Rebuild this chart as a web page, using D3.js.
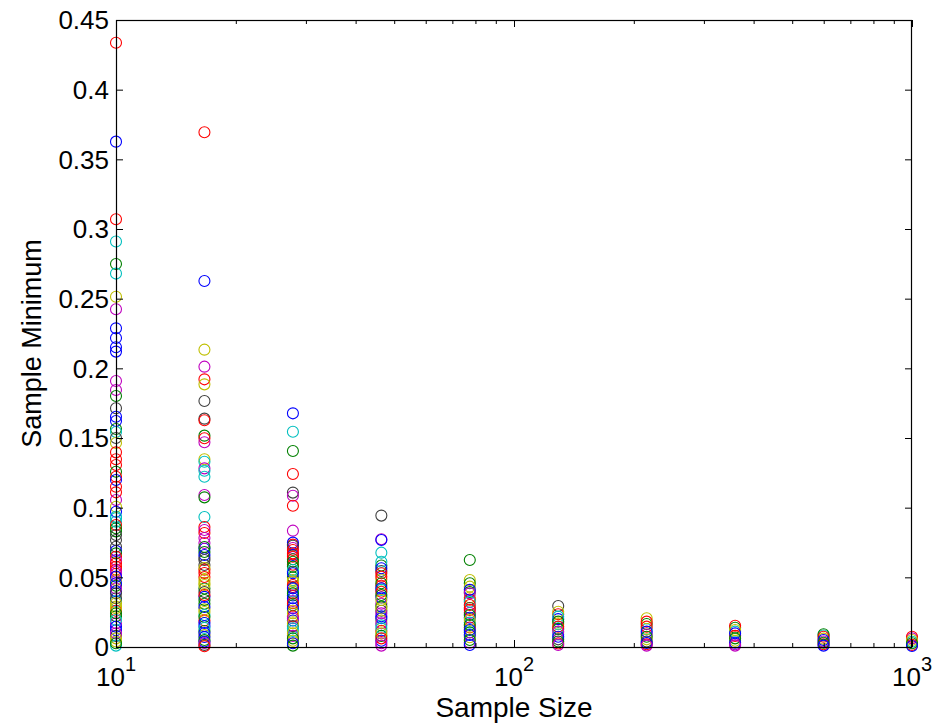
<!DOCTYPE html>
<html>
<head>
<meta charset="utf-8">
<script src="https://cdn.jsdelivr.net/npm/d3@7"></script>
<style>
  html, body { margin: 0; padding: 0; background: #fff; }
  svg { display: block; font-family: "Liberation Sans", Arial, Helvetica, sans-serif; }
</style>
</head>
<body>
<svg id="chart" width="933" height="724"></svg>
<script>
// ---- data ----
const sampleSizes = [10, 16.68, 27.83, 46.42, 77.43, 129.15, 215.44, 359.38, 599.48, 1000];

const minima10 = [0.4337,0.3627,0.307,0.291,0.2749,0.268,0.2514,0.2424,0.2287,0.2218,0.2151,0.212,0.1909,0.1845,0.1801,0.1713,0.1653,0.1622,0.1565,0.1543,0.150,0.1464,0.1397,0.1347,0.1306,0.1258,0.1222,0.1199,0.115,0.111,0.1055,0.1007,0.0971,0.0935,0.0899,0.0876,0.0852,0.0804,0.0768,0.0672,0.0648,0.0624,0.0601,0.0576,0.054,0.0505,0.0457,0.042,0.0385,0.035,0.0314,0.0278,0.0242,0.0194,0.0146,0.0098,0.0062,0.0027];
const colors10  = "rbrcgcymbbbbmmgkbbgckyrrrgrbrrmybccrgkkgrmrrmbbmkkyygcbmyg";
const dense10   = [0.0925,0.083,0.072,0.069,0.0555,0.0525,0.048,0.044,0.040,0.033,0.029,0.026,0.022,0.017,0.012,0.008,0.004,0.001];
const denseCol10 = "cgkbrmygbcyrgmbkyc";

const minima17 = [0.3694,0.2627,0.2134,0.2012,0.1921,0.1885,0.1766,0.1639,0.1627,0.1517,0.1498,0.1469,0.1347,0.133,0.1282,0.1265,0.1222,0.1091,0.1074,0.0933,0.0861,0.084,0.0818,0.0782,0.0746,0.0718,0.0682,0.066,0.0624,0.0589,0.0567,0.0531,0.0502,0.0481,0.0445,0.0395,0.0373,0.0337,0.0287,0.0251,0.0215,0.0172,0.0136,0.01,0.0072,0.005,0.0029,0.0005];
const colors17  = "rbymrykkrgrmycmccmgcrmrmmggbkkyrryykrgbygbcbbgmr";
const dense17   = [0.0705,0.064,0.0555,0.046,0.042,0.036,0.031,0.027,0.023,0.019,0.015,0.0115,0.0085,0.004,0.0015];
const denseCol17 = "bkrygbgycrbgybk";

const minima28 = [0.1677,0.1545,0.1407,0.1242,0.1108,0.1086,0.1014,0.0835,0.0749,0.0727,0.0696,0.0672,0.0648,0.0612,0.0576,0.0553,0.0529,0.0469,0.0445,0.0421,0.0385,0.035,0.0314,0.0278,0.0242,0.0206,0.017,0.0134,0.0098,0.0062,0.0027];
const colors28  = "bcgrkmrmbkrrrggcbyrbgbrbymycygb";
const dense28   = [0.0735,0.071,0.066,0.063,0.059,0.054,0.05,0.048,0.043,0.040,0.037,0.033,0.030,0.026,0.022,0.019,0.015,0.0115,0.008,0.0045,0.001];
const denseCol28 = "rmbgrkgyrcbmgyrbkcmyg";

const minima46 = [0.0943,0.0773,0.0768,0.0677,0.0612,0.0565,0.0529,0.0505,0.0457,0.0421,0.0397,0.0373,0.0337,0.0278,0.0242,0.0206,0.017,0.0134,0.0098,0.0062,0.0027];
const colors46  = "kmbccbrrgbrgyymbmcyrm";
const dense46   = [0.0585,0.0545,0.0485,0.044,0.041,0.0355,0.031,0.029,0.026,0.022,0.019,0.0155,0.0115,0.008,0.0045,0.001];
const denseCol46 = "gkyrcbmgkbycrgbm";

const minima77 = [0.0624,0.0481,0.0457,0.0433,0.041,0.0385,0.0325,0.0301,0.0266,0.023,0.0194,0.0158,0.0122,0.0086,0.005,0.0014];
const colors77  = "gygybmcrrgygbbgb";
const dense77   = [0.0395,0.0355,0.034,0.028,0.0245,0.021,0.0175,0.014,0.0105,0.007,0.003];
const denseCol77 = "gyrkmbcrgym";

const minima129 = [0.0294,0.0253,0.0218,0.0182,0.0146,0.011,0.0074,0.004,0.0014];
const colors129 = "kycgrmbgm";
const dense129  = [0.0235,0.02,0.0165,0.013,0.009,0.0055,0.0025];
const denseCol129 = "rbygckr";

const minima215 = [0.0206,0.0182,0.0146,0.011,0.0074,0.004,0.0029,0.001];
const colors215 = "yrrbgkbm";
const dense215  = [0.0165,0.0128,0.009,0.0055,0.002];
const denseCol215 = "gcmyr";

const minima359 = [0.0153,0.0122,0.0098,0.0062,0.003,0.001];
const colors359 = "rybgbm";
const dense359  = [0.0138,0.011,0.008,0.0045,0.002];
const denseCol359 = "gcrym";

const minima599 = [0.0091,0.0074,0.005,0.003,0.001];
const colors599 = "grbgb";
const dense599  = [0.0082,0.006,0.004,0.002];
const denseCol599 = "cymr";

const minima1000 = [0.0074,0.005,0.0027,0.0007];
const colors1000 = "rygb";
const dense1000  = [0.0062,0.0038,0.0015];
const denseCol1000 = "mcr";

const columnValues = [minima10, minima17, minima28, minima46, minima77, minima129, minima215, minima359, minima599, minima1000];
const columnColors = [colors10, colors17, colors28, colors46, colors77, colors129, colors215, colors359, colors599, colors1000];
const denseValues = [dense10, dense17, dense28, dense46, dense77, dense129, dense215, dense359, dense599, dense1000];
const denseColors = [denseCol10, denseCol17, denseCol28, denseCol46, denseCol77, denseCol129, denseCol215, denseCol359, denseCol599, denseCol1000];

const yTicks = [0, 0.05, 0.1, 0.15, 0.2, 0.25, 0.3, 0.35, 0.4, 0.45];
const yTickLabels = ["0", "0.05", "0.1", "0.15", "0.2", "0.25", "0.3", "0.35", "0.4", "0.45"];
const xMajorTicks = [10, 100, 1000];
const xMajorExponents = ["1", "2", "3"];
const xLabel = "Sample Size";
const yLabel = "Sample Minimum";

const colorMap = { b: "#0000ff", g: "#008000", r: "#ff0000", c: "#00bfbf", m: "#bf00bf", y: "#bfbf00", k: "#404040" };

// ---- layout ----
const L = 116, R = 912, T = 20, B = 647;
const svg = d3.select("#chart");
const x = d3.scaleLog().domain([10, 1000]).range([L, R]);
const y = d3.scaleLinear().domain([0, 0.45]).range([B, T]);

// points table
const points = [];
[[denseValues, denseColors], [columnValues, columnColors]].forEach(([vs, cs]) => {
  vs.forEach((vals, i) => {
    vals.forEach((v, j) => points.push({ n: sampleSizes[i], v: v, c: colorMap[cs[i][j]] }));
  });
});

svg.append("g").selectAll("circle").data(points).enter().append("circle")
  .attr("cx", d => x(d.n)).attr("cy", d => y(d.v)).attr("r", 5.5)
  .attr("fill", "none").attr("stroke", d => d.c).attr("stroke-width", 1.1);

// minor ticks on log axis
const minorTicks = [];
[10, 100].forEach(dec => { for (let k = 2; k <= 9; k++) minorTicks.push(dec * k); });

const yAxisL = d3.axisLeft(y).tickValues(yTicks).tickSize(-7).tickFormat("");
const yAxisR = d3.axisRight(y).tickValues(yTicks).tickSize(-7).tickFormat("");
const xAxisB = d3.axisBottom(x).tickValues(xMajorTicks).tickSize(-7).tickFormat("");
const xAxisT = d3.axisTop(x).tickValues(xMajorTicks).tickSize(-7).tickFormat("");
const xMinB = d3.axisBottom(x).tickValues(minorTicks).tickSize(-4).tickFormat("");
const xMinT = d3.axisTop(x).tickValues(minorTicks).tickSize(-4).tickFormat("");

function styleAxis(g) { g.select(".domain").remove(); g.selectAll("line").attr("stroke", "#000"); }
svg.append("g").attr("transform", `translate(${L},0)`).call(yAxisL).call(styleAxis);
svg.append("g").attr("transform", `translate(${R},0)`).call(yAxisR).call(styleAxis);
svg.append("g").attr("transform", `translate(0,${B})`).call(xAxisB).call(styleAxis);
svg.append("g").attr("transform", `translate(0,${T})`).call(xAxisT).call(styleAxis);
svg.append("g").attr("transform", `translate(0,${B})`).call(xMinB).call(styleAxis);
svg.append("g").attr("transform", `translate(0,${T})`).call(xMinT).call(styleAxis);

// frame
svg.append("rect").attr("x", L + 0.5).attr("y", T + 0.5).attr("width", R - L - 1).attr("height", B - T)
  .attr("fill", "none").attr("stroke", "#000").attr("stroke-width", 1.2);

// y tick labels
svg.append("g").selectAll("text").data(yTicks).enter().append("text")
  .attr("x", L - 7).attr("y", d => y(d)).attr("dy", "0.36em")
  .attr("text-anchor", "end").attr("font-size", 26).attr("fill", "#000")
  .text((d, i) => yTickLabels[i]);

// x tick labels: 10^n
const xl = svg.append("g").selectAll("text").data(xMajorTicks).enter().append("text")
  .attr("x", d => x(d)).attr("y", 686).attr("text-anchor", "middle")
  .attr("font-size", 26).attr("fill", "#000");
xl.append("tspan").text("10");
xl.append("tspan").attr("dy", -15).attr("font-size", 20).text((d, i) => xMajorExponents[i]);

// axis labels
svg.append("text").attr("x", (L + R) / 2).attr("y", 717).attr("text-anchor", "middle")
  .attr("font-size", 28).attr("fill", "#000").text(xLabel);
svg.append("text").attr("transform", `translate(41,${(T + B) / 2 + 10}) rotate(-90)`)
  .attr("text-anchor", "middle").attr("font-size", 27).attr("fill", "#000").text(yLabel);
</script>
</body>
</html>
